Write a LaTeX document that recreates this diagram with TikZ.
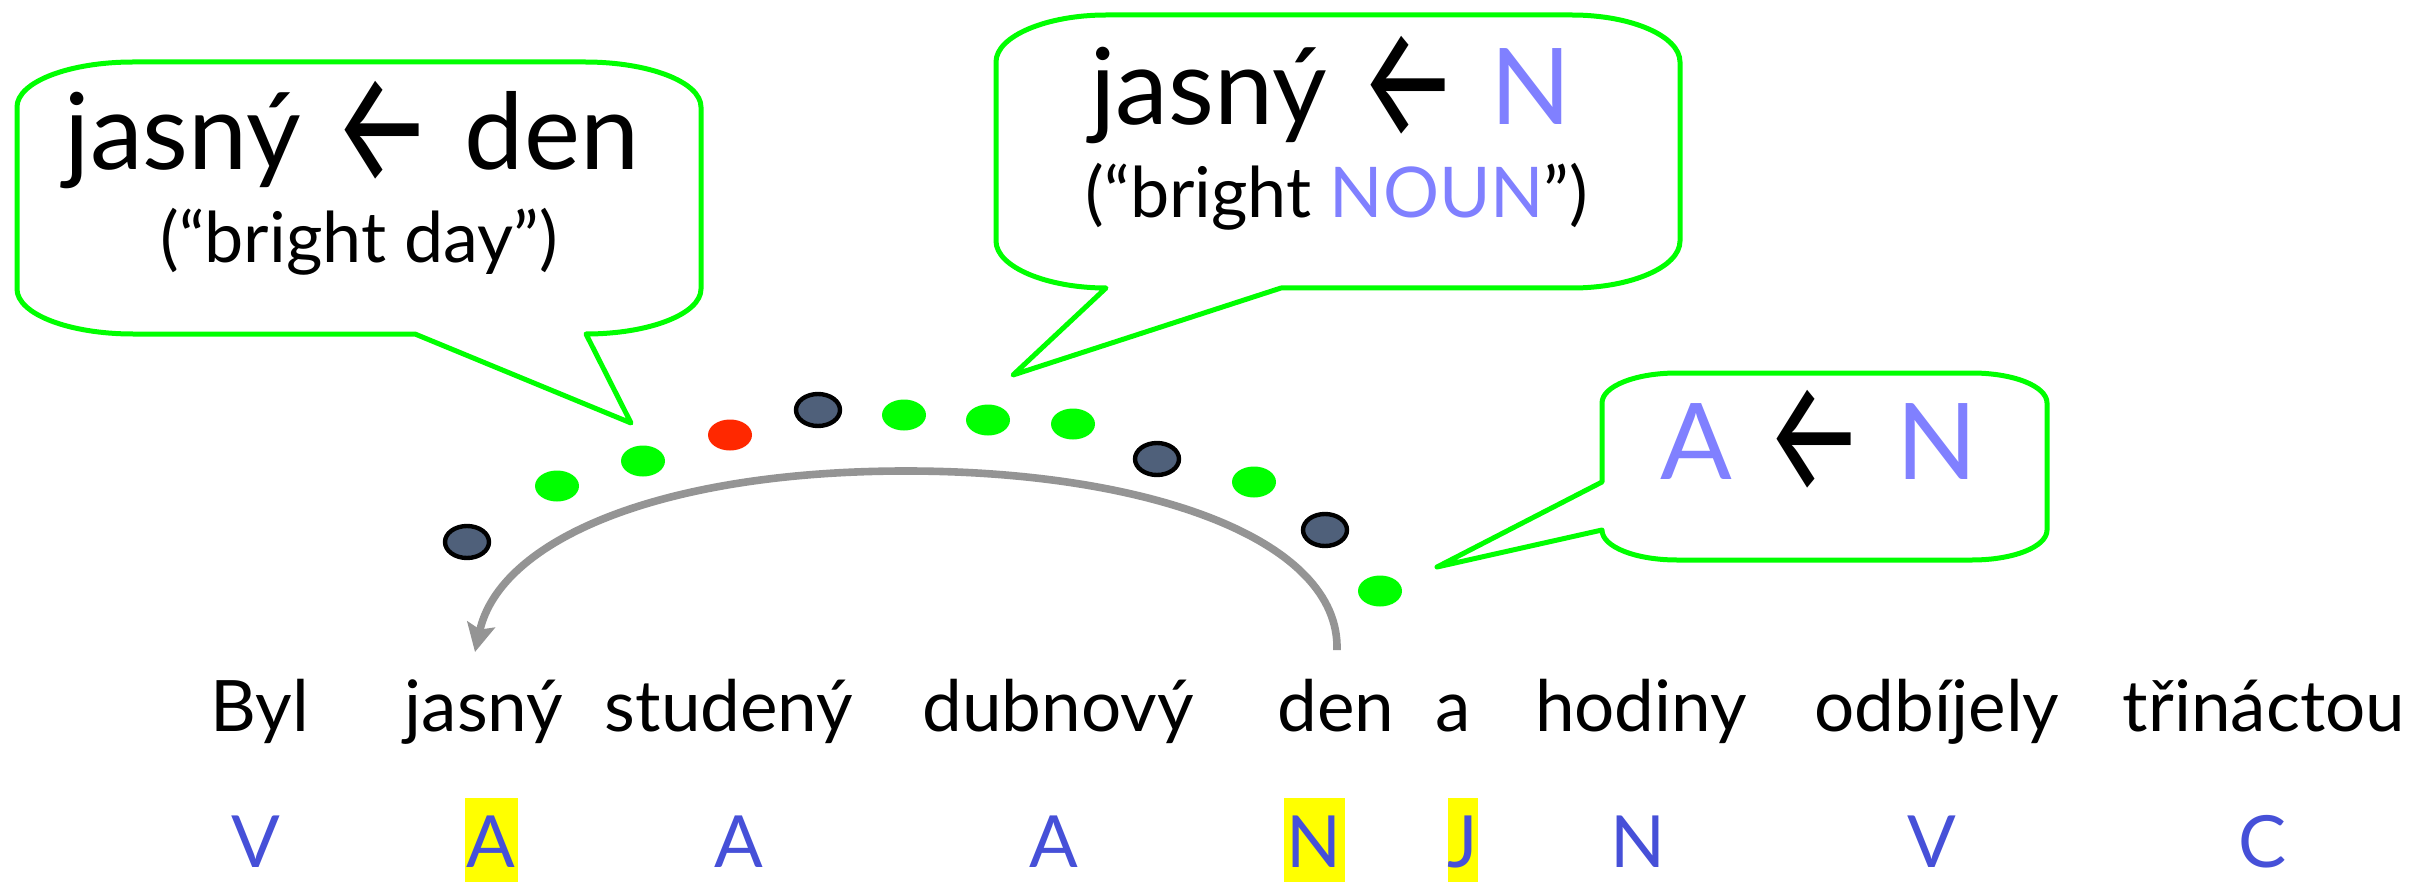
\documentclass[tikz,border=0pt]{standalone}
\usepackage{fontspec}
\usepackage{graphicx}
\setmainfont{Lato}
\newfontfamily\symfont{Fira Sans}
\usetikzlibrary{shapes.geometric,arrows.meta,calc}
\definecolor{bubgreen}{RGB}{0,255,0}
\definecolor{tagblue}{RGB}{70,80,216}
\definecolor{lblue}{RGB}{128,128,255}
\definecolor{dotred}{RGB}{255,40,0}
\definecolor{slate}{RGB}{79,96,122}
\definecolor{arcgray}{RGB}{148,148,148}
\definecolor{hl}{RGB}{255,255,0}
\newcommand\myarrow{\hspace{0.3em}\smash{\symfont\raisebox{-0.12em}{\scalebox{1.05}[1.5]{←}}}\hspace{0.3em}}
\begin{document}
\begin{tikzpicture}[x=0.5pt,y=-0.5pt,
  bubble/.style={draw=bubgreen,line width=2.5pt,line join=round,fill=white},
  big/.style={font=\fontsize{53}{60}\selectfont,anchor=base,inner sep=0pt},
  sub/.style={font=\fontsize{35}{40}\selectfont,anchor=base,inner sep=0pt},
  word/.style={font=\fontsize{35.5}{40}\selectfont,anchor=base,inner sep=0pt},
  tag/.style={font=\fontsize{36}{40}\selectfont,text=tagblue,anchor=base,inner sep=0pt},
  hltag/.style={tag,fill=hl,text height=34.5pt,text depth=8pt,inner ysep=0pt},
  gdot/.style={ellipse,fill=bubgreen,minimum width=22pt,minimum height=15.5pt,inner sep=0pt},
  rdot/.style={gdot,fill=dotred},
  kdot/.style={ellipse,fill=slate,draw=black,line width=2.2pt,minimum width=22pt,minimum height=16pt,inner sep=0pt},
  arcline/.style={draw=arcgray,line width=3.8pt,-{Stealth[length=14pt,width=14pt,inset=2.5pt]}}
]
\fill[white] (0,0) rectangle (2425,882);
\useasboundingbox (0,0) rectangle (2425,882);

% speech bubbles
\draw[bubble] (133,62) -- (585,62) .. controls (649,62) and (701,82) .. (701,107) -- (701,289) .. controls (701,314) and (649,334) .. (586,334) -- (631,423) -- (415,334) -- (133,334) .. controls (69,334) and (17,314) .. (17,289) -- (17,107) .. controls (17,82) and (69,62) .. cycle;
\draw[bubble] (1106,15) -- (1572,15) .. controls (1631,15) and (1680,36) .. (1680,62) -- (1680,241) .. controls (1680,267) and (1631,288) .. (1572,288) -- (1281,288) -- (1013,375) -- (1106,288) .. controls (1047,288) and (996,267) .. (996,241) -- (996,62) .. controls (996,36) and (1047,15) .. cycle;
\draw[bubble] (1677,373) -- (1972,373) .. controls (2013,373) and (2047,386) .. (2047,403) -- (2047,530) .. controls (2047,547) and (2013,560) .. (1972,560) -- (1677,560) .. controls (1636,560) and (1602,547) .. (1602,530) -- (1437,567) -- (1602,482) -- (1602,403) .. controls (1602,386) and (1636,373) .. cycle;

\node[big] (b1a) at (352,170) {jasný\myarrow den};
\node[sub] (b1b) at (359,263) {(“bright day”)};
\node[big] (b2a) at (1331,125) {jasný\myarrow\textcolor{lblue}{N}};
\node[sub] (b2b) at (1337,218) {(“bright \textcolor{lblue}{NOUN}”)};
\node[big] (b3) at (1819,479) {\textcolor{lblue}{A}\myarrow\textcolor{lblue}{N}};

% dots
\node[kdot] (d1) at (467,542) {};
\node[gdot] (d2) at (557,486) {};
\node[gdot] (d3) at (643,461) {};
\node[rdot] (d4) at (730,435) {};
\node[kdot] (d5) at (818,410) {};
\node[gdot] (d6) at (904,415) {};
\node[gdot] (d7) at (988,420) {};
\node[gdot] (d8) at (1073,424) {};
\node[kdot] (d9) at (1157,459) {};
\node[gdot] (d10) at (1254,482) {};
\node[kdot] (d11) at (1325,530) {};
\node[gdot] (d12) at (1380,591) {};

% words
\node[word] (w1) at (260,731) {Byl};
\node[word] (w2) at (484,731) {jasný};
\node[word] (w3) at (729,731) {studený};
\node[word] (w4) at (1058,731) {dubnový};
\node[word] (w5) at (1336,731) {den};
\node[word] (w6) at (1453,731) {a};
\node[word] (w7) at (1641,731) {hodiny};
\node[word] (w8) at (1937,731) {odbíjely};
\node[word] (w9) at (2264,731) {třináctou};

% tags
\node[tag] (t1) at (256,867) {V};
\node[hltag,minimum width=26.5pt] (t2) at (491,867) {A};
\node[tag] (t3) at (739,867) {A};
\node[tag] (t4) at (1054,867) {A};
\node[hltag,minimum width=30.5pt] (t5) at (1314,867) {N};
\node[hltag,minimum width=13.5pt] (t6) at (1463,867) {J};
\node[tag] (t7) at (1638,867) {N};
\node[tag] (t8) at (1932,867) {V};
\node[tag] (t9) at (2263,867) {C};

% dependency arc
\path (w5.base) ++(1,-81) coordinate (arcS);
\path (w2.base) ++(-9,-79) coordinate (arcE);
\coordinate (arcM) at (906,471);
\draw[arcline] (arcS) .. controls +(3,-110) and +(244,0) .. (arcM) .. controls +(-246,0) and +(25,-112) .. (arcE);
\end{tikzpicture}
\end{document}
